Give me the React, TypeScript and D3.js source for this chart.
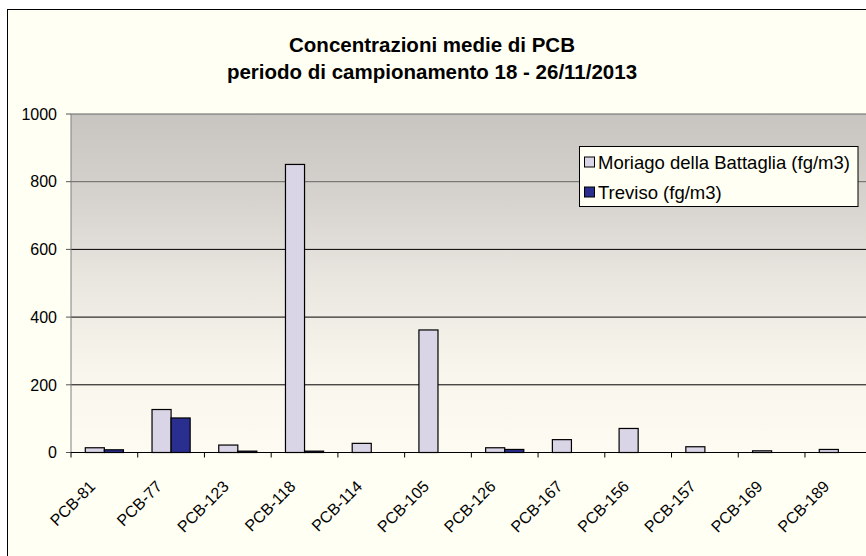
import React from "react";
import * as d3 from "d3";

const categories = ["PCB-81", "PCB-77", "PCB-123", "PCB-118", "PCB-114", "PCB-105", "PCB-126", "PCB-167", "PCB-156", "PCB-157", "PCB-169", "PCB-189"];
const seriesNames = ["Moriago della Battaglia (fg/m3)", "Treviso (fg/m3)"];
const moriago = [14, 127, 22, 851, 27, 362, 14, 38, 71, 17, 5, 9];
const treviso = [8, 102, 4, 4, 0, 0, 9, 0, 0, 0, 0, 0];
const yTicks = [0, 200, 400, 600, 800, 1000];
const seriesColors = ["#D9D4E6", "#2A2E8F"];

const W = 866, H = 556;
const plotL = 71, plotR = 871.7, plotT = 114, plotB = 452.5;

export default function App() {
  const x = d3.scaleBand<string>().domain(categories).range([plotL, plotR]).paddingInner(0).paddingOuter(0);
  const x1 = d3.scaleBand<string>().domain(seriesNames).range([0, x.bandwidth()]).paddingInner(0).paddingOuter(0.75);
  const y = d3.scaleLinear().domain([0, 1000]).range([plotB, plotT]);
  const data = [moriago, treviso];
  const font = "'Liberation Sans', Arial, sans-serif";

  return (
    <svg width={W} height={H} style={{ position: "absolute", left: 0, top: 0, background: "#ffffff" }} fontFamily={font}>
      <defs>
        <linearGradient id="pg" x1="0" y1="0" x2="0" y2="1">
          <stop offset="0" stopColor="#C8C5C0" />
          <stop offset="0.25" stopColor="#D6D3CE" />
          <stop offset="0.5" stopColor="#EAE7E1" />
          <stop offset="0.75" stopColor="#F8F5EC" />
          <stop offset="1" stopColor="#FEFBF2" />
        </linearGradient>
      </defs>
      <rect x={7.5} y={9.5} width={880} height={580} fill="#FFFFF3" stroke="#000" strokeWidth={1} />
      <text x={432} y={52} textAnchor="middle" fontSize={20.5} fontWeight="bold">Concentrazioni medie di PCB</text>
      <text x={432} y={79} textAnchor="middle" fontSize={20.5} fontWeight="bold">periodo di campionamento 18 - 26/11/2013</text>

      <rect x={plotL} y={plotT} width={plotR - plotL} height={plotB - plotT} fill="url(#pg)" />
      {yTicks.filter(t => t > 0).map(t => (
        <line key={"g" + t} x1={plotL} x2={plotR} y1={y(t)} y2={y(t)} stroke={t >= 800 ? "#666" : "#000"} strokeWidth={1} />
      ))}
      <line x1={plotL} x2={plotL} y1={plotT} y2={plotB} stroke="#808080" strokeWidth={1} />
      {yTicks.map(t => (
        <g key={"yt" + t}>
          <line x1={plotL - 5} x2={plotL} y1={y(t)} y2={y(t)} stroke="#555" />
          <text x={57} y={y(t)} dy="0.36em" textAnchor="end" fontSize={16} fill="#000">{t}</text>
        </g>
      ))}

      {categories.map((c, i) => (
        <g key={c}>
          {data.map((vals, s) => {
            const v = vals[i];
            if (!v) return null;
            const bx = (x(c) as number) + (x1(seriesNames[s]) as number);
            return (
              <rect key={s} x={bx} y={y(v)} width={x1.bandwidth()} height={plotB - y(v)}
                fill={seriesColors[s]} stroke="#000" strokeWidth={1.2} />
            );
          })}
        </g>
      ))}

      <line x1={plotL} x2={plotR} y1={plotB} y2={plotB} stroke="#000" strokeWidth={1} />
      {categories.map((c) => (
        <line key={"xt" + c} x1={x(c)} x2={x(c)} y1={plotB} y2={plotB + 5} stroke="#000" />
      ))}
      {categories.map((c) => {
        const cx = (x(c) as number) + x.bandwidth() / 2 - 8;
        const cy = plotB + 35;
        return (
          <text key={"xl" + c} x={cx} y={cy} textAnchor="end" fontSize={16} transform={`rotate(-45 ${cx} ${cy})`}>{c}</text>
        );
      })}

      <g>
        <rect x={579.5} y={146.5} width={278.5} height={60} fill="#FFFFF3" stroke="#000" strokeWidth={1} />
        {seriesNames.map((n, i) => (
          <g key={n}>
            <rect x={584.5} y={157 + i * 30} width={10} height={10} fill={seriesColors[i]} stroke="#000" />
            <text x={598} y={162 + i * 30} dy="0.36em" fontSize={18.5}>{n}</text>
          </g>
        ))}
      </g>
    </svg>
  );
}
